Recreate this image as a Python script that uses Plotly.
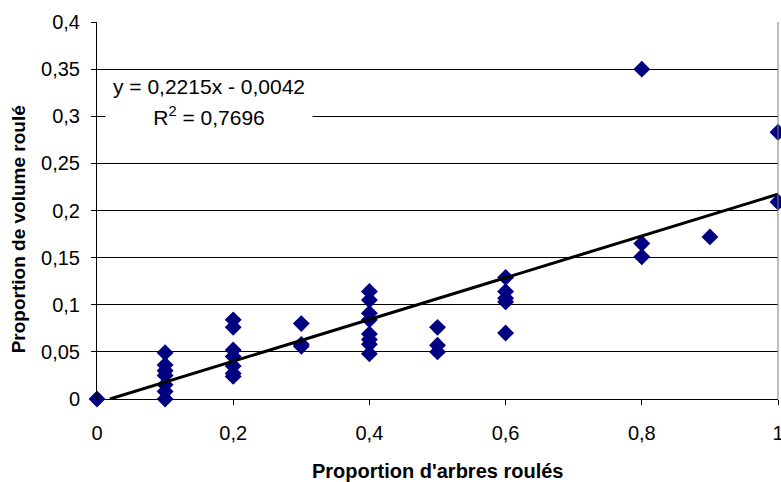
import plotly.graph_objects as go

# Proportion of rolled trees vs. proportion of rolled volume, per plot
prop_arbres = [
    0.0,
    0.1, 0.1, 0.1, 0.1, 0.1, 0.1, 0.1,
    0.2, 0.2, 0.2, 0.2, 0.2, 0.2, 0.2,
    0.3, 0.3, 0.3,
    0.4, 0.4, 0.4, 0.4, 0.4, 0.4, 0.4, 0.4,
    0.5, 0.5, 0.5,
    0.6, 0.6, 0.6, 0.6, 0.6,
    0.8, 0.8, 0.8,
    0.9,
    1.0, 1.0,
]
prop_volume = [
    0.0,
    0.049, 0.036, 0.030, 0.025, 0.015, 0.008, 0.0,
    0.084, 0.076, 0.052, 0.045, 0.035, 0.027, 0.024,
    0.080, 0.058, 0.056,
    0.114, 0.105, 0.091, 0.084, 0.069, 0.063, 0.058, 0.048,
    0.076, 0.057, 0.050,
    0.129, 0.114, 0.107, 0.103, 0.070,
    0.350, 0.165, 0.151,
    0.172,
    0.283, 0.209,
]

# Linear trend line coefficients and fit quality
pente = 0.2215
ordonnee = -0.0042
r2_texte = "0,7696"

x_ticks = [0, 0.2, 0.4, 0.6, 0.8, 1.0]
x_labels = ["0", "0,2", "0,4", "0,6", "0,8", "1"]
y_ticks = [0, 0.05, 0.1, 0.15, 0.2, 0.25, 0.3, 0.35, 0.4]
y_labels = ["0", "0,05", "0,1", "0,15", "0,2", "0,25", "0,3", "0,35", "0,4"]

FONT = "Liberation Sans, Arial, sans-serif"

# trend line drawn from where it crosses y = 0 up to x = 1
x_debut = -ordonnee / pente
tend_x = [x_debut, 1.0]
tend_y = [pente * v + ordonnee for v in tend_x]


def virgule(v):
    return str(v).replace(".", ",")


fig = go.Figure()
fig.add_trace(go.Scatter(
    x=prop_arbres, y=prop_volume, mode="markers",
    marker=dict(symbol="diamond", size=13, color="#000080"),
    cliponaxis=False, showlegend=False, hoverinfo="x+y",
))
fig.add_trace(go.Scatter(
    x=tend_x, y=tend_y, mode="lines",
    line=dict(color="black", width=3),
    showlegend=False, hoverinfo="skip",
))

fig.update_layout(
    width=781, height=482,
    margin=dict(l=97, r=3, t=22, b=83),
    paper_bgcolor="white", plot_bgcolor="white",
    font=dict(family=FONT, color="black", size=20),
    xaxis=dict(
        range=[0, 1], tickvals=x_ticks, ticktext=x_labels,
        showgrid=False, zeroline=False, automargin=False,
        showline=True, linecolor="black", linewidth=1,
        ticks="outside", ticklen=5, tickcolor="black",
        ticklabelstandoff=11, ticklabeloverflow="allow",
        tickfont=dict(size=20),
    ),
    yaxis=dict(
        range=[0, 0.4], tickvals=y_ticks, ticktext=y_labels,
        showgrid=True, gridcolor="black", gridwidth=1,
        zeroline=False, automargin=False,
        showline=True, linecolor="black", linewidth=1,
        ticks="outside", ticklen=5, tickcolor="black",
        ticklabelstandoff=7,
        tickfont=dict(size=20),
    ),
    shapes=[dict(
        type="line", xref="paper", yref="paper",
        x0=1, x1=1, y0=0, y1=1,
        line=dict(color="#808080", width=1),
    )],
    annotations=[
        dict(text="<b>Proportion d'arbres roulés</b>", xref="paper", yref="paper",
             x=0.5, y=-0.19, xanchor="center", yanchor="middle",
             showarrow=False, font=dict(size=20, family=FONT)),
        dict(text="<b>Proportion de volume roulé</b>", xref="paper", yref="paper",
             x=-0.116, y=0.45, xanchor="center", yanchor="middle",
             textangle=-90, showarrow=False, font=dict(size=19, family=FONT)),
        dict(text=f"y = {virgule(pente)}x - {virgule(-ordonnee)}",
             xref="paper", yref="paper", x=0.165, y=0.830,
             xanchor="center", yanchor="middle", width=204, height=28,
             bgcolor="white", showarrow=False, font=dict(size=21, family=FONT)),
        dict(text=f"R<sup>2</sup> = {r2_texte}",
             xref="paper", yref="paper", x=0.165, y=0.750,
             xanchor="center", yanchor="middle", width=204, height=30,
             bgcolor="white", showarrow=False, font=dict(size=21, family=FONT)),
    ],
)

fig.write_html("out.html")
